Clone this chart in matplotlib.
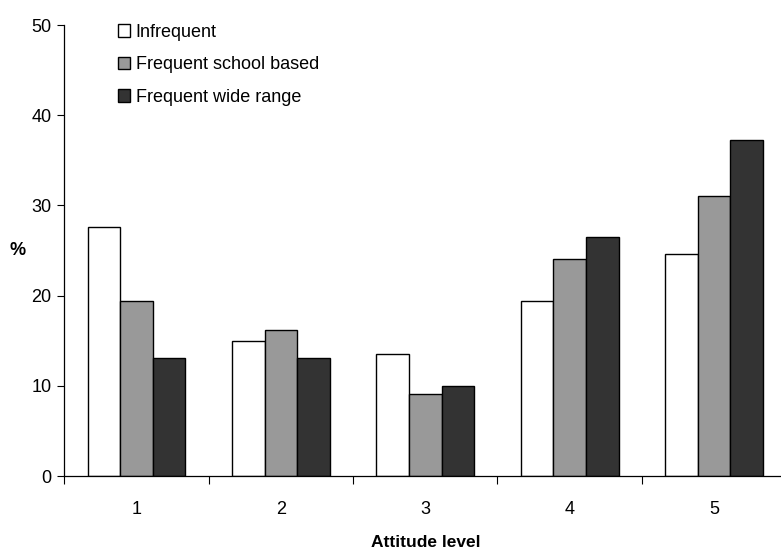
import numpy as np
import matplotlib.pyplot as plt

plt.rcParams['font.family'] = ['Liberation Sans', 'DejaVu Sans']

levels = ['1', '2', '3', '4', '5']
series = ['Infrequent', 'Frequent school based', 'Frequent wide range']
infrequent = [27.6, 15.0, 13.5, 19.4, 24.6]
school_based = [19.4, 16.2, 9.1, 24.1, 31.0]
wide_range = [13.1, 13.1, 10.0, 26.5, 37.3]
colors = ['#ffffff', '#999999', '#333333']

fig = plt.figure(figsize=(7.81, 5.5), dpi=100)
ax = fig.add_axes([0.082, 0.1345, 0.925, 0.82])

x = np.arange(1, len(levels) + 1)
w = 0.225
for i, (vals, name, c) in enumerate(zip([infrequent, school_based, wide_range], series, colors)):
    ax.bar(x + (i - 1) * w, vals, width=w, color=c, edgecolor='black',
           linewidth=1.0, label=name)

ax.set_xlim(0.5, 5.5)
ax.set_ylim(0, 50)
ax.set_yticks(range(0, 51, 10))
# category ticks sit between groups, labels at group centres
ax.set_xticks(np.arange(0.5, 5.6, 1.0))
ax.set_xticklabels([])
ax.set_xticks(x, minor=True)
ax.set_xticklabels(levels, minor=True)
ax.tick_params(axis='x', which='minor', length=0, pad=18, labelsize=13)
ax.tick_params(axis='x', which='major', direction='out', length=6, width=0.8)
ax.tick_params(axis='y', direction='out', length=5, width=0.8, labelsize=13, pad=4)

for s in ['top', 'right']:
    ax.spines[s].set_visible(False)
for s in ['left', 'bottom']:
    ax.spines[s].set_linewidth(0.9)

ax.set_xlabel('Attitude level', fontsize=12.5, fontweight='bold', labelpad=12)
fig.text(0.023, 0.545, '%', fontsize=13, fontweight='bold', ha='center', va='center')

ax.legend(loc='upper left', bbox_to_anchor=(0.139, 0.973), bbox_transform=fig.transFigure,
          frameon=False, fontsize=13, handlelength=0.7, handleheight=0.7,
          handletextpad=0.3, labelspacing=0.85, borderpad=0)

fig.savefig('out.png', dpi=100)
